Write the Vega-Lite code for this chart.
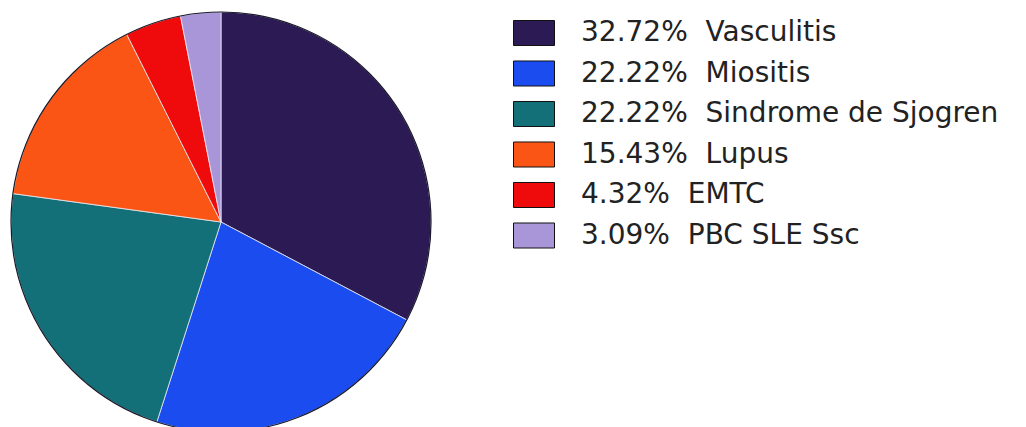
{
  "$schema": "https://vega.github.io/schema/vega-lite/v6.json",
  "width": 442,
  "height": 444,
  "padding": 0,
  "autosize": {"type": "pad"},
  "background": "white",
  "config": {"view": {"stroke": null}},
  "layer": [
    {
      "data": {
        "values": [
          {"order": 1, "label": "32.72%\u00a0\u00a0Vasculitis", "percent": 32.72},
          {"order": 2, "label": "22.22%\u00a0\u00a0Miositis", "percent": 22.22},
          {"order": 3, "label": "22.22%\u00a0\u00a0Sindrome de Sjogren", "percent": 22.22},
          {"order": 4, "label": "15.43%\u00a0\u00a0Lupus", "percent": 15.43},
          {"order": 5, "label": "4.32%\u00a0\u00a0EMTC", "percent": 4.32},
          {"order": 6, "label": "3.09%\u00a0\u00a0PBC SLE Ssc", "percent": 3.09}
        ]
      },
      "mark": {"type": "arc", "radius": 210, "stroke": "#e8e8f0", "strokeWidth": 0.8},
      "encoding": {
        "theta": {"field": "percent", "type": "quantitative", "stack": true},
        "order": {"field": "order", "type": "quantitative"},
        "color": {
          "field": "label",
          "type": "nominal",
          "scale": {
            "domain": [
              "32.72%\u00a0\u00a0Vasculitis",
              "22.22%\u00a0\u00a0Miositis",
              "22.22%\u00a0\u00a0Sindrome de Sjogren",
              "15.43%\u00a0\u00a0Lupus",
              "4.32%\u00a0\u00a0EMTC",
              "3.09%\u00a0\u00a0PBC SLE Ssc"
            ],
            "range": ["#2c1a55", "#1a4cef", "#137079", "#fb5516", "#ef0b0b", "#a996d9"]
          },
          "legend": {
            "title": null,
            "orient": "none",
            "legendX": 513,
            "legendY": 12,
            "padding": 0,
            "symbolType": "M-1,-0.61L1,-0.61L1,0.61L-1,0.61Z",
            "symbolSize": 1681,
            "symbolStrokeColor": "#111",
            "symbolStrokeWidth": 1,
            "symbolOpacity": 1,
            "rowPadding": 4.5,
            "labelFont": "DejaVu Sans",
            "labelFontSize": 28,
            "labelColor": "#222",
            "labelOffset": 26,
            "labelLimit": 700
          }
        }
      }
    },
    {
      "data": {"values": [{"whole": 100}]},
      "mark": {"type": "arc", "radius": 210, "fill": null, "filled": false, "stroke": "#1a1a2a", "strokeWidth": 1.2},
      "encoding": {
        "theta": {"field": "whole", "type": "quantitative"}
      }
    }
  ],
  "resolve": {"scale": {"theta": "independent"}}
}
